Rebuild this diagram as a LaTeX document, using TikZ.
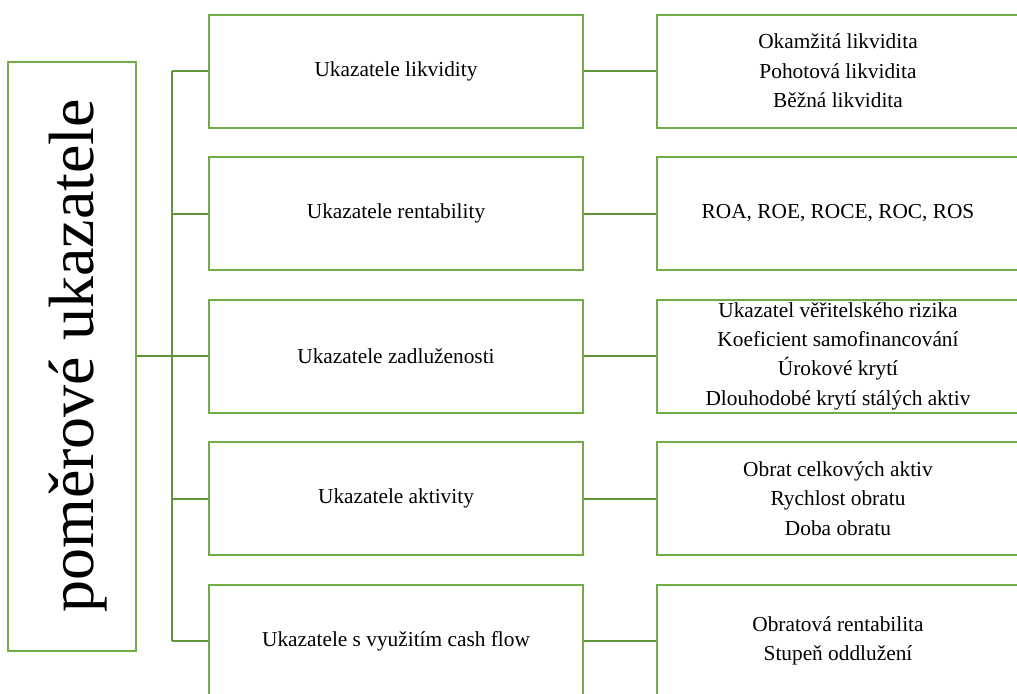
\documentclass[tikz,border=0pt]{standalone}
\usepackage{fontspec}
\setmainfont{Liberation Serif}
\usepackage{tikz}

\definecolor{boxgreen}{HTML}{70AD47}
\definecolor{linegreen}{HTML}{5E9638}

\tikzset{
  ratiobox/.style={draw=boxgreen,line width=1.5pt,fill=white,inner sep=0pt,align=center,
    minimum width=280.5pt,minimum height=84.75pt,font=\fontsize{16}{22}\selectfont},
  itembox/.style={ratiobox,minimum width=271pt},
  link/.style={draw=linegreen,line width=1.5pt}
}

\begin{document}
\begin{tikzpicture}[x=0.75pt,y=-0.75pt]
\useasboundingbox (0,0) rectangle (1017,693);
\clip (0,0) rectangle (1017,693);
% main box
\node[draw=boxgreen,line width=1.5pt,minimum width=96pt,minimum height=441.75pt] (main) at (72,356.5) {};
\node[rotate=90,font=\fontsize{48}{50}\selectfont] (title) at (78,356) {poměrové ukazatele};
% middle column
\node[ratiobox] (likv) at (396,71) {Ukazatele likvidity};
\node[ratiobox] (rent) at (396,213.5) {Ukazatele rentability};
\node[ratiobox] (zadl) at (396,356) {Ukazatele zadluženosti};
\node[ratiobox] (akt) at (396,498.5) {Ukazatele aktivity};
\node[ratiobox] (cf) at (396,641) {Ukazatele s využitím cash flow};
% right column
\node[itembox] (likvi) at (838,71) {Okamžitá likvidita\\Pohotová likvidita\\Běžná likvidita};
\node[itembox] (renti) at (838,213.5) {ROA, ROE, ROCE, ROC, ROS};
\node[itembox] (zadli) at (838,356) {Ukazatel věřitelského rizika\\Koeficient samofinancování\\Úrokové krytí\\Dlouhodobé krytí stálých aktiv};
\node[itembox] (akti) at (838,498.5) {Obrat celkových aktiv\\Rychlost obratu\\Doba obratu};
\node[itembox] (cfi) at (838,641) {Obratová rentabilita\\Stupeň oddlužení};
% connectors
\coordinate (top) at (172,71);
\coordinate (bot) at (172,641);
\draw[link] (top) -- (bot);
\draw[link] (main.east |- zadl.west) -- (zadl.west -| top);
\draw[link] (likv.west) -- (likv.west -| top);
\draw[link] (rent.west) -- (rent.west -| top);
\draw[link] (zadl.west) -- (zadl.west -| top);
\draw[link] (akt.west) -- (akt.west -| top);
\draw[link] (cf.west) -- (cf.west -| top);
\draw[link] (likv.east) -- (likvi.west);
\draw[link] (rent.east) -- (renti.west);
\draw[link] (zadl.east) -- (zadli.west);
\draw[link] (akt.east) -- (akti.west);
\draw[link] (cf.east) -- (cfi.west);
\end{tikzpicture}
\end{document}
